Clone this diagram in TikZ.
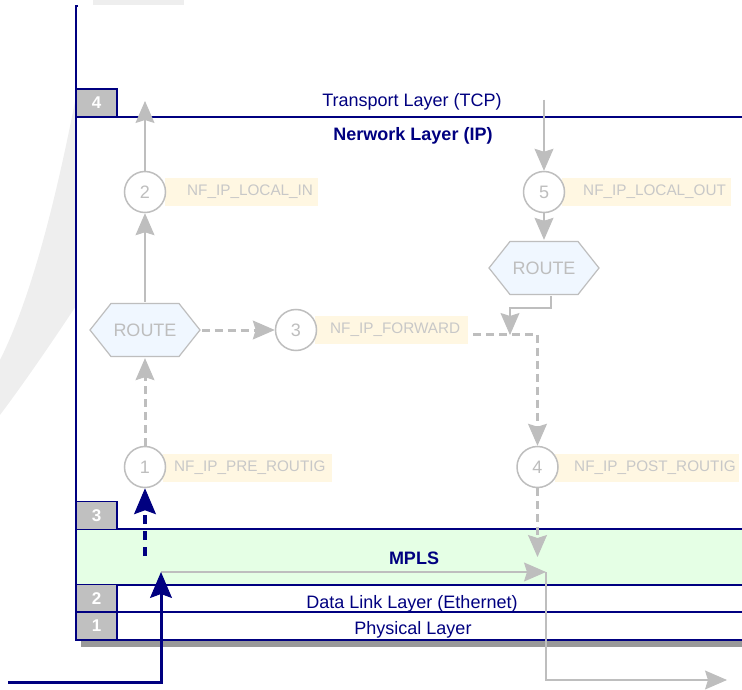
\documentclass[tikz,border=0pt]{standalone}
\usepackage{fontspec}
\setmainfont{Liberation Sans}
\usetikzlibrary{arrows.meta,calc}
\pgfdeclarelayer{bg}
\pgfdeclarelayer{conn}
\pgfsetlayers{bg,conn,main}
\definecolor{navy}{RGB}{0,0,128}
\definecolor{lgray}{RGB}{190,190,190}
\definecolor{txtgray}{RGB}{200,200,200}
\definecolor{boxgray}{RGB}{192,192,192}
\definecolor{mplsgreen}{RGB}{229,255,229}
\definecolor{lblyellow}{RGB}{255,247,226}
\definecolor{hexblue}{RGB}{240,247,255}
\definecolor{bggray}{RGB}{238,238,238}
\definecolor{shadowgray}{RGB}{153,153,153}
\newcommand\fsz[1]{\fontsize{#1}{#1}\selectfont}
\begin{document}
\begin{tikzpicture}[x=1pt,y=-1pt,
 layerline/.style={draw=navy,line width=2pt},
 layerbox/.style={draw=navy,fill=boxgray,line width=1.5pt,minimum width=41pt,minimum height=28pt,inner sep=0pt,text=white,font=\fsz{17}\bfseries},
 layertext/.style={text=navy,font=\fsz{18},anchor=base,inner sep=0pt},
 hook/.style={circle,draw=lgray,fill=white,line width=1.5pt,minimum size=41pt,inner sep=0pt,text=lgray,font=\fsz{18}},
 hooklabel/.style={fill=lblyellow,minimum height=28pt,inner xsep=0pt,anchor=west,text=txtgray,font=\fsz{15.3}},
 routebox/.style={minimum width=113pt,minimum height=56pt,inner sep=0pt,fill=white,text=lgray,font=\fsz{18},
   path picture={\filldraw[draw=lgray,fill=hexblue,line width=1.2pt]
     ($(path picture bounding box.west)+(1.5,0)$) -- ($(path picture bounding box.north west)+(22.5,1.5)$) --
     ($(path picture bounding box.north east)+(-22.5,1.5)$) -- ($(path picture bounding box.east)+(-1.5,0)$) --
     ($(path picture bounding box.south east)+(-22.5,-1.5)$) -- ($(path picture bounding box.south west)+(22.5,-1.5)$) -- cycle;}},
 gline/.style={draw=lgray,line width=2pt,-{Stealth[length=22pt,width=19pt,inset=3pt,line width=1pt]}},
 gdash/.style={gline,line width=3pt,dash pattern=on 8pt off 5pt},
 nline/.style={draw=navy,line width=3pt,-{Stealth[length=26pt,width=22pt,inset=4pt,line width=1pt]}},
 ndash/.style={nline,line width=3.5pt,dash pattern=on 9pt off 7pt}]
\useasboundingbox (0,0) rectangle (742,690);
\begin{pgfonlayer}{bg}
% background decoration
\fill[bggray] (93,0) rectangle (184,5);
\fill[bggray] (78,86) .. controls (60,180) and (35,290) .. (0,360) -- (0,415) .. controls (30,375) and (60,330) .. (78,303) -- cycle;
% frame
\fill[white] (76,6) rectangle (742,640);
\fill[mplsgreen] (76,529) rectangle (742,585);
\fill[shadowgray] (81,640) rectangle (742,647);
\draw[layerline] (78,6) -- (76,6) -- (76,640);
\draw[layerline] (76,117) -- (742,117);
\draw[layerline] (76,529) -- (742,529);
\draw[layerline] (76,585) -- (742,585);
\draw[layerline] (76,612) -- (742,612);
\draw[layerline] (76,640) -- (742,640);
\end{pgfonlayer}
\node[layerbox] (L4) at (96.5,103) {4};
\node[layerbox] (L3) at (96.5,515.5) {3};
\node[layerbox] (L2) at (96.5,598.5) {2};
\node[layerbox] (L1) at (96.5,626) {1};
\node[layertext] (tcp) at (412,107) {Transport Layer (TCP)};
\node[layertext,font=\fsz{18}\bfseries] (ip) at (413,141) {Nerwork Layer (IP)};
\node[layertext,font=\fsz{18}\bfseries] (mpls) at (414,564) {MPLS};
\node[layertext] (dl) at (412,608) {Data Link Layer (Ethernet)};
\node[layertext] (phy) at (413,634) {Physical Layer};
% hooks
\node[hooklabel] (l1) at (163,468) {\hspace*{11pt}NF\_IP\_PRE\_ROUTIG\hspace*{6pt}};
\node[hooklabel] (l2) at (165,192) {\hspace*{22pt}NF\_IP\_LOCAL\_IN\hspace*{5pt}};
\node[hooklabel] (l3) at (315,330) {\hspace*{15pt}NF\_IP\_FORWARD\hspace*{8pt}};
\node[hooklabel] (l4) at (555,468) {\hspace*{19pt}NF\_IP\_POST\_ROUTIG\hspace*{3pt}};
\node[hooklabel] (l5) at (562,192) {\hspace*{21pt}NF\_IP\_LOCAL\_OUT\hspace*{5pt}};
\node[hook] (c1) at (145,467) {1};
\node[hook] (c2) at (145,192) {2};
\node[hook] (c3) at (296,330) {3};
\node[hook] (c4) at (537.5,467) {4};
\node[hook] (c5) at (544,192) {5};
\node[routebox] (r1) at (145,330) {ROUTE};
\node[routebox] (r2) at (544,268) {ROUTE};
% free ends
\coordinate (tcpin) at (145,101);
\coordinate (tcpout) at (544,100);
\coordinate (elbA) at (510,308);
\coordinate (elbB) at (510,335);
\coordinate (fwd) at (537.5,334);
\coordinate (c4end) at (537.5,557);
\coordinate (in0) at (8,682);
\coordinate (in1) at (161,682);
\coordinate (mplsin) at (161,572);
\coordinate (ndstart) at (145,556);
\coordinate (mplsout) at (546,572);
\coordinate (outturn) at (546,680);
\coordinate (outend) at (727,680);
\begin{pgfonlayer}{conn}
\draw[gline] (c2) -- (tcpin);
\draw[gline] (r1) -- (c2);
\draw[gdash] (c1) -- (r1);
\draw[gdash] (r1) -- (c3);
\draw[gline] (tcpout) -- (c5);
\draw[gline] (c5) -- (r2);
\draw[gline] ([xshift=7pt]r2.south) |- (elbA) -- (elbB);
\draw[gdash] (c3.east |- fwd) -- (fwd) -- (c4);
\draw[gdash] (c4) -- (c4end);
\draw[gline] (mplsin) -- (mplsout);
\draw[gline] (mplsout) -- (outturn) -- (outend);
\draw[ndash] (ndstart) -- (c1);
\draw[nline] (in0) -- (in1) -- (mplsin);
\end{pgfonlayer}
\end{tikzpicture}
\end{document}
